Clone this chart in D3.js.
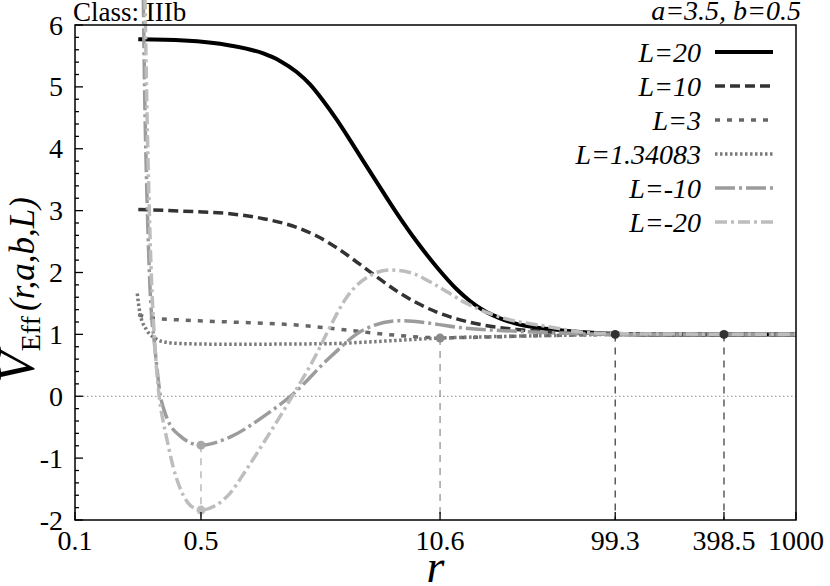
<!DOCTYPE html>
<html lang="en">
<head>
<meta charset="utf-8">
<title>V_Eff curves</title>
<script src="https://cdn.jsdelivr.net/npm/d3@7/dist/d3.min.js"></script>
<style>
body { margin: 0; background: #fff; }
svg, svg text { font-family: "Liberation Serif", "Times New Roman", Times, serif; }
.frame { fill: none; stroke: #000; stroke-width: 1.5px; }
.tick { stroke: #000; stroke-width: 1.3px; }
.tick-label { font-size: 28px; fill: #000; }
.curve { fill: none; }
.legend text { font-size: 28px; font-style: italic; }
</style>
</head>
<body>
<div id="chart"></div>
<script>
// --- data ---
var seriesLabels = ["L=20", "L=10", "L=3", "L=1.34083", "L=-10", "L=-20"];

var rL20 = [0.2245, 0.4024, 0.724, 1.108, 1.372, 1.698, 2.013, 2.376, 2.831, 3.356, 3.976, 4.719, 6.091, 7.865, 10.15, 13.11, 15.54, 18.42, 22.79, 28.22, 34.75, 43.17, 63.34, 99.3, 154.9, 1000];
var vL20 = [5.77, 5.75, 5.67, 5.54, 5.42, 5.24, 5.04, 4.78, 4.47, 4.14, 3.80, 3.46, 2.96, 2.50, 2.09, 1.73, 1.54, 1.39, 1.26, 1.17, 1.12, 1.085, 1.04, 1.01, 1.0, 1.0];

var rL10 = [0.2245, 0.4024, 0.724, 1.108, 1.698, 2.193, 2.831, 3.654, 4.719, 6.091, 7.865, 10.15, 13.11, 18.42, 28.22, 43.17, 63.34, 99.3, 1000];
var vL10 = [3.02, 2.99, 2.95, 2.87, 2.73, 2.59, 2.40, 2.17, 1.93, 1.70, 1.51, 1.36, 1.25, 1.15, 1.08, 1.04, 1.02, 1.0, 1.0];

var rL3 = [0.2245, 0.2607, 0.4024, 0.724, 1.698, 2.598, 3.976, 6.091, 10.6, 18.42, 28.22, 63.34, 99.3, 1000];
var vL3 = [1.32, 1.27, 1.23, 1.20, 1.15, 1.10, 1.04, 0.985, 0.945, 0.955, 0.97, 0.99, 1.0, 1.0];

var rL134 = [0.2215, 0.2294, 0.2499, 0.2779, 0.309, 0.4024, 0.724, 1.698, 2.598, 5.113, 10.6, 26.9, 63.34, 99.3, 1000];
var vL134 = [1.66, 1.34, 1.07, 0.94, 0.88, 0.85, 0.84, 0.845, 0.85, 0.89, 0.94, 0.97, 0.99, 1.0, 1.0];

var rLm10 = [0.2393, 0.2445, 0.2499, 0.2557, 0.2607, 0.2664, 0.2744, 0.2815, 0.2981, 0.3118, 0.3365, 0.3824, 0.4345, 0.5, 0.724, 1.108, 1.626, 2.598, 3.976, 6.353, 9.322, 13.68, 28.22, 63.34, 99.3, 1000];
var vLm10 = [6.45, 4.6, 3.4, 2.4, 1.75, 1.28, 0.92, 0.6, 0.0, -0.22, -0.46, -0.64, -0.75, -0.79, -0.66, -0.33, 0.04, 0.63, 1.07, 1.22, 1.18, 1.11, 1.05, 1.01, 1.0, 1.0];

var rLm20 = [0.2445, 0.2508, 0.2573, 0.2640, 0.2726, 0.2833, 0.2963, 0.309, 0.3227, 0.351, 0.3988, 0.4345, 0.5, 0.5978, 0.724, 0.877, 1.108, 1.559, 2.193, 2.598, 3.217, 4.331, 5.593, 7.219, 9.723, 14.9, 22.79, 43.17, 63.34, 99.3, 1000];
var vLm20 = [6.45, 4.6, 3.2, 2.1, 1.2, 0.45, -0.11, -0.42, -0.68, -1.15, -1.6, -1.76, -1.84, -1.77, -1.57, -1.22, -0.76, -0.06, 0.69, 1.12, 1.6, 1.95, 2.04, 2.0, 1.82, 1.50, 1.28, 1.12, 1.04, 1.01, 1.0];

// marked points with drop lines
var critR = [0.5, 0.5, 10.6, 99.3, 398.5];
var critV = [-0.79, -1.84, 0.94, 1.0, 1.0];

var xTickValues = [0.1, 0.5, 10.6, 99.3, 398.5, 1000];
var yTickValues = [-2, -1, 0, 1, 2, 3, 4, 5, 6];

// --- styles ---
var FONT = "'Liberation Serif', 'Times New Roman', Times, serif";
var seriesStyle = [
  { color: "#000", width: 4, dash: null },
  { color: "#333", width: 3.5, dash: "10,5" },
  { color: "#666", width: 3.5, dash: "5,7" },
  { color: "#7a7a7a", width: 3.5, dash: "2.5,2.5" },
  { color: "#9c9c9c", width: 3.5, dash: "20,4,3,4" },
  { color: "#bdbdbd", width: 3.5, dash: "12,4,3,4" }
];
var critColor = ["#a8a8a8", "#bdbdbd", "#8a8a8a", "#333", "#333"];

var series = [
  [rL20, vL20], [rL10, vL10], [rL3, vL3], [rL134, vL134], [rLm10, vLm10], [rLm20, vLm20]
];

var width = 830, height = 586;
var margin = {top: 25, right: 34, bottom: 66, left: 75};

var x = d3.scaleLog().domain([0.1, 1000]).range([margin.left, width - margin.right]);
var y = d3.scaleLinear().domain([-2, 6]).range([height - margin.bottom, margin.top]);

var svg = d3.select("#chart").append("svg")
    .attr("width", width)
    .attr("height", height)
    .attr("font-family", FONT);

// zero line
svg.append("line")
    .attr("x1", x(0.1)).attr("x2", x(1000))
    .attr("y1", y(0)).attr("y2", y(0))
    .attr("stroke", "#888").attr("stroke-width", 1)
    .attr("stroke-dasharray", "1.5,2.5");

// drop lines from marked points
svg.append("g").selectAll("line")
  .data(critR)
  .enter().append("line")
    .attr("x1", function(d) { return x(d); })
    .attr("x2", function(d) { return x(d); })
    .attr("y1", function(d, i) { return y(critV[i]); })
    .attr("y2", y(-2))
    .attr("stroke", function(d, i) { return critColor[i]; })
    .attr("stroke-width", 1.2)
    .attr("stroke-dasharray", "7,6");

// curves
var line = d3.line()
    .x(function(d) { return x(d[0]); })
    .y(function(d) { return y(d[1]); })
    .curve(d3.curveMonotoneX);

series.forEach(function(s, i) {
  var pts = s[0].map(function(r, j) { return [r, s[1][j]]; });
  svg.append("path")
      .attr("class", "curve")
      .attr("d", line(pts))
      .attr("stroke", seriesStyle[i].color)
      .attr("stroke-width", seriesStyle[i].width)
      .attr("stroke-dasharray", seriesStyle[i].dash);
});

// markers
svg.append("g").selectAll("circle")
  .data(critR)
  .enter().append("circle")
    .attr("cx", function(d) { return x(d); })
    .attr("cy", function(d, i) { return y(critV[i]); })
    .attr("r", 4.5)
    .attr("fill", function(d, i) { return critColor[i]; });

// frame
svg.append("rect")
    .attr("class", "frame")
    .attr("x", x(0.1)).attr("y", y(6))
    .attr("width", x(1000) - x(0.1))
    .attr("height", y(-2) - y(6));

// y ticks (major + minor, inward)
var yMinor = d3.range(-2, 6.001, 0.2);
svg.append("g").selectAll("line")
  .data(yMinor)
  .enter().append("line")
    .attr("class", "tick")
    .attr("x1", x(0.1))
    .attr("x2", function(d) { return x(0.1) + (Math.abs(d - Math.round(d)) < 1e-6 ? 8 : 4); })
    .attr("y1", function(d) { return y(d); })
    .attr("y2", function(d) { return y(d); });

svg.append("g").selectAll("text")
  .data(yTickValues)
  .enter().append("text")
    .attr("class", "tick-label")
    .attr("font-family", FONT)
    .attr("text-anchor", "end")
    .attr("x", x(0.1) - 12)
    .attr("y", function(d) { return y(d) + 9.5; })
    .text(function(d) { return d; });

// x ticks
svg.append("g").selectAll("line")
  .data(xTickValues)
  .enter().append("line")
    .attr("class", "tick")
    .attr("x1", function(d) { return x(d); })
    .attr("x2", function(d) { return x(d); })
    .attr("y1", y(-2))
    .attr("y2", y(-2) - 8);

svg.append("g").selectAll("text")
  .data(xTickValues)
  .enter().append("text")
    .attr("class", "tick-label")
    .attr("font-family", FONT)
    .attr("text-anchor", "middle")
    .attr("x", function(d) { return x(d); })
    .attr("y", y(-2) + 30)
    .text(function(d) { return d; });

// axis titles
svg.append("text")
    .attr("x", (x(0.1) + x(1000)) / 2)
    .attr("y", 582)
    .attr("text-anchor", "middle")
    .attr("font-family", FONT)
    .attr("font-size", 46)
    .attr("font-style", "italic")
    .text("r");

var ylab = svg.append("text")
    .attr("font-family", FONT)
    .attr("transform", "translate(34,383)rotate(-90)");
ylab.append("tspan").attr("font-size", 52).attr("font-style", "italic").text("V");
ylab.append("tspan").attr("font-size", 28).attr("dy", 6).text("Eff");
ylab.append("tspan").attr("font-size", 35).attr("font-style", "italic").attr("dy", -6).attr("dx", 5).text("(r,a,b,L)");

svg.append("text")
    .attr("x", 73).attr("y", 21)
    .attr("font-family", FONT)
    .attr("font-size", 27)
    .text("Class: IIIb");

svg.append("text")
    .attr("x", 801).attr("y", 20)
    .attr("text-anchor", "end")
    .attr("font-family", FONT)
    .attr("font-size", 28)
    .attr("font-style", "italic")
    .text("a=3.5, b=0.5");

// legend
var legend = svg.append("g").attr("class", "legend");
seriesLabels.forEach(function(lab, i) {
  var ly = 52 + i * 34;
  legend.append("text")
      .attr("font-family", FONT)
      .attr("x", 701).attr("y", ly + 9.5)
      .attr("text-anchor", "end")
      .text(lab);
  legend.append("line")
      .attr("x1", 715).attr("x2", 773)
      .attr("y1", ly).attr("y2", ly)
      .attr("stroke", seriesStyle[i].color)
      .attr("stroke-width", seriesStyle[i].width)
      .attr("stroke-dasharray", seriesStyle[i].dash);
});
</script>
</body>
</html>
